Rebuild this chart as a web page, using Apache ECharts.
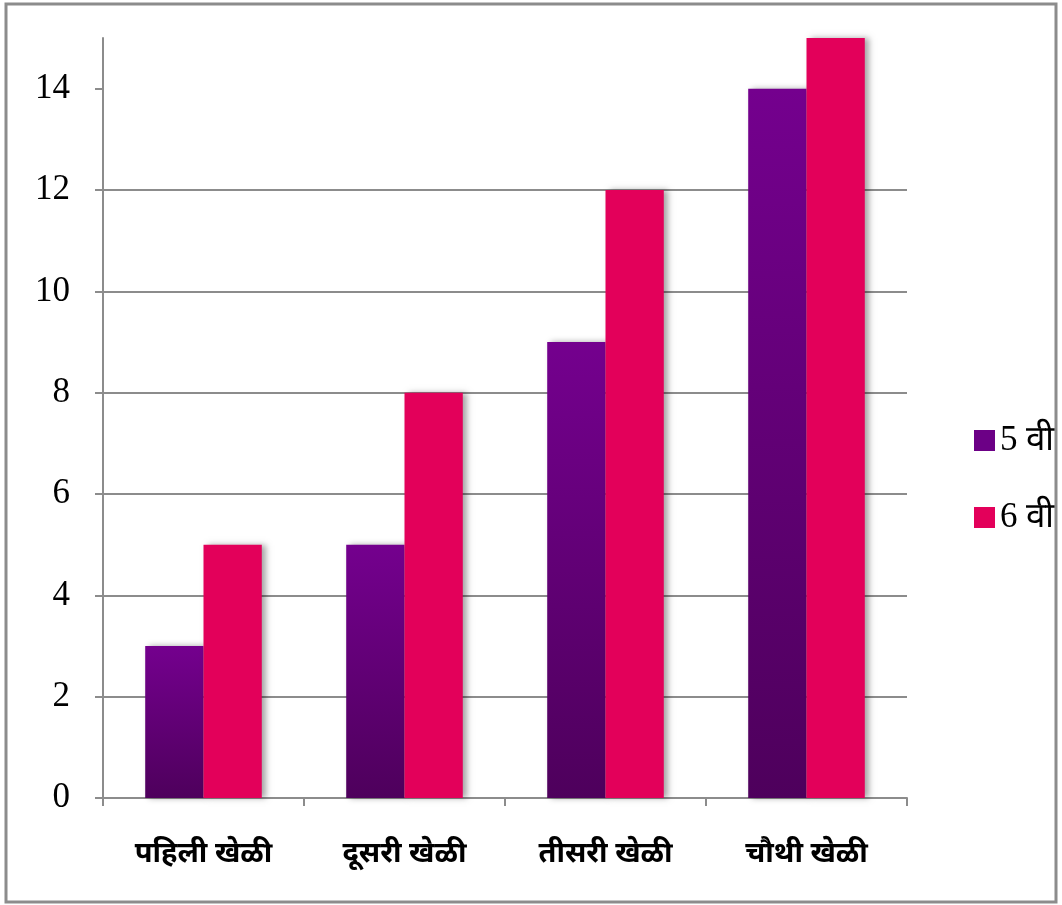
<!DOCTYPE html>
<html>
<head>
<meta charset="utf-8">
<title>खेळी</title>
<script src="https://cdn.jsdelivr.net/npm/echarts@6/dist/echarts.min.js"></script>
<style>
  html, body { margin: 0; padding: 0; background: #fff; }
  #main { width: 1062px; height: 905px; }
</style>
</head>
<body>
<div id="main"></div>
<script>
var categories = ['पहिली खेळी', 'दूसरी खेळी', 'तीसरी खेळी', 'चौथी खेळी'];
var seriesNames = ['5 वी', '6 वी'];
var class5 = [3, 5, 9, 14];
var class6 = [5, 8, 12, 15];
var yTicks = [0, 2, 4, 6, 8, 10, 12, 14];

var chart = echarts.init(document.getElementById('main'));

var purple = new echarts.graphic.LinearGradient(0, 0, 0, 1, [
  { offset: 0, color: '#74008e' },
  { offset: 1, color: '#4e005c' }
]);

var option = {
  animation: false,
  graphic: [{
    type: 'rect',
    shape: { x: 6, y: 4, width: 1050, height: 898 },
    style: { fill: 'none', stroke: '#8c8c8c', lineWidth: 3 },
    silent: true
  }],
  grid: { left: 103, right: 155, top: 38, bottom: 107 },
  legend: {
    orient: 'vertical',
    left: 969,
    top: 418,
    icon: 'rect',
    itemWidth: 21,
    itemHeight: 21,
    itemGap: 42,
    textStyle: { fontFamily: 'Liberation Serif', fontSize: 35, color: '#000' },
    data: [
      { name: seriesNames[0], itemStyle: { color: '#6c0086' } },
      { name: seriesNames[1], itemStyle: { color: '#e3005a' } }
    ]
  },
  xAxis: {
    type: 'category',
    data: categories,
    axisLine: { lineStyle: { color: '#8c8c8c', width: 2 } },
    axisTick: { show: true, length: 8, lineStyle: { color: '#8c8c8c', width: 2 } },
    axisLabel: { fontSize: 29, fontWeight: 'bold', color: '#000', margin: 41,
      fontFamily: 'Noto Sans, sans-serif' }
  },
  yAxis: {
    type: 'value',
    min: 0,
    max: 15,
    interval: 2,
    axisLine: { show: true, lineStyle: { color: '#8c8c8c', width: 2 } },
    axisTick: { show: true, length: 8, customValues: yTicks, lineStyle: { color: '#8c8c8c', width: 2 } },
    axisLabel: { customValues: yTicks, fontSize: 35, color: '#000', margin: 33,
      fontFamily: 'Liberation Serif' },
    splitLine: { show: true, showMaxLine: false, lineStyle: { color: '#8c8c8c', width: 2 } }
  },
  series: [
    {
      name: seriesNames[0],
      type: 'bar',
      data: class5,
      barGap: '0%',
      barCategoryGap: '42%',
      itemStyle: { color: purple, shadowColor: 'rgba(0,0,0,0.35)', shadowBlur: 6, shadowOffsetX: 4 }
    },
    {
      name: seriesNames[1],
      type: 'bar',
      data: class6,
      barGap: '0%',
      barCategoryGap: '42%',
      itemStyle: { color: '#e3005a', shadowColor: 'rgba(0,0,0,0.35)', shadowBlur: 6, shadowOffsetX: 4 }
    }
  ]
};

chart.setOption(option);
</script>
</body>
</html>
